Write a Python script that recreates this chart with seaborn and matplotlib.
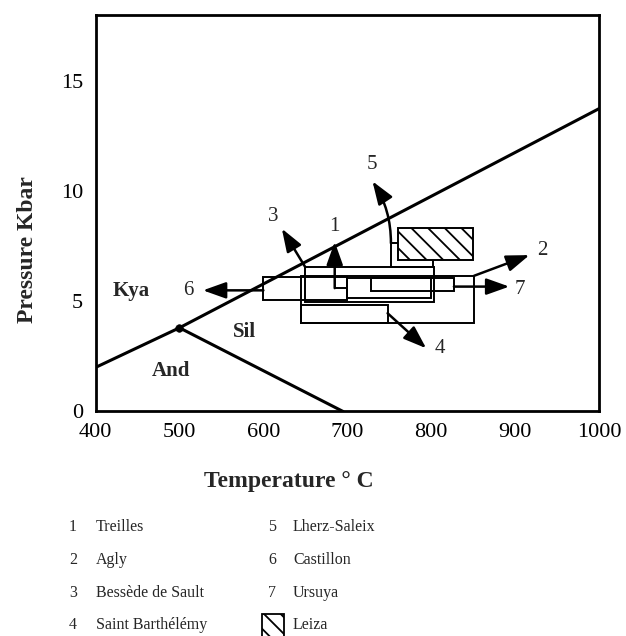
import matplotlib
matplotlib.use("Agg")
import matplotlib.pyplot as plt
import seaborn as sns
import pandas as pd
from matplotlib.patches import Rectangle
from matplotlib.ticker import MultipleLocator

# ---------------- data ----------------
# phase boundaries (T in deg C, P in kbar)
ky_T = [400, 500, 1000]
ky_P = [2.0, 3.8, 13.75]
as_T = [500, 695]
as_P = [3.8, 0.0]
triple_T = [500]
triple_P = [3.8]

# P-T boxes: (Tmin, Tmax, Pmin, Pmax)
box_ids = ["1", "2", "3", "4", "5", "6", "7"]
box_tmin = [700, 645, 650, 645, 752, 600, 728]
box_tmax = [800, 851, 803, 748, 802, 700, 827]
box_pmin = [5.14, 4.0, 4.95, 4.0, 6.55, 5.05, 5.47]
box_pmax = [6.05, 6.16, 6.55, 4.85, 7.64, 6.12, 6.05]

leiza_T = [760, 850]
leiza_P = [6.9, 8.33]

# arrows: start and end points, label position
arrow_ids = ["1", "2", "3", "4", "5", "6", "7"]
arrow_t0 = [685, 851, 650, 748, 752, 600, 827]
arrow_p0 = [5.6, 6.16, 6.55, 4.46, 7.64, 5.5, 5.67]
arrow_t1 = [685, 917, 622, 794, 730, 528, 893]
arrow_p1 = [7.7, 7.1, 8.3, 2.87, 10.45, 5.5, 5.67]
label_t = [685, 932, 612, 810, 729, 510, 906]
label_p = [8.4, 7.3, 8.85, 2.85, 11.2, 5.5, 5.55]

region_names = ["Kya", "And", "Sil"]
region_t = [442, 490, 578]
region_p = [5.45, 1.85, 3.6]

legend_nums = ["1", "2", "3", "4", "5", "6", "7"]
legend_names = ["Treilles", "Agly", "Bessède de Sault", "Saint Barthélémy",
                "Lherz-Saleix", "Castillon", "Ursuya"]
leiza_name = "Leiza"

x_ticks = [400, 500, 600, 700, 800, 900, 1000]
y_ticks = [0, 5, 10, 15]

# ---------------- style ----------------
sns.set_theme(style="white")
plt.rcParams["font.family"] = ["Liberation Serif", "DejaVu Serif"]
plt.rcParams["hatch.linewidth"] = 1.3

fig = plt.figure(figsize=(6.26, 6.36), dpi=100)
ax = fig.add_axes([0.1526, 0.353, 0.8044, 0.6234])

# phase boundaries
sns.lineplot(x=ky_T, y=ky_P, ax=ax, color="black", lw=2.2, sort=False,
             estimator=None, legend=False)
sns.lineplot(x=as_T, y=as_P, ax=ax, color="black", lw=2.2, sort=False,
             estimator=None, legend=False)
sns.scatterplot(x=triple_T, y=triple_P, ax=ax, color="black", s=30,
                edgecolor="black", zorder=5, legend=False)

# boxes
for t0, t1, p0, p1 in zip(box_tmin, box_tmax, box_pmin, box_pmax):
    ax.add_patch(Rectangle((t0, p0), t1 - t0, p1 - p0, fill=False,
                           ec="black", lw=1.4, zorder=2))
ax.add_patch(Rectangle((leiza_T[0], leiza_P[0]), leiza_T[1] - leiza_T[0],
                       leiza_P[1] - leiza_P[0], facecolor="white",
                       ec="black", lw=1.4, hatch="\\\\", zorder=3))

# connector for arrow 1
ax.plot([box_tmin[0], arrow_t0[0]], [5.6, 5.6], color="black", lw=1.4, zorder=2)

# arrows
for i, (t0, p0, t1, p1) in enumerate(zip(arrow_t0, arrow_p0, arrow_t1, arrow_p1)):
    conn = "arc3,rad=0.15" if arrow_ids[i] == "5" else "arc3,rad=0"
    ax.annotate("", xy=(t1, p1), xytext=(t0, p0),
                arrowprops=dict(arrowstyle="-|>,head_length=0.7,head_width=0.25",
                                lw=1.8, color="black", shrinkA=0, shrinkB=0,
                                mutation_scale=20, connectionstyle=conn),
                zorder=4)
for lab, t, p in zip(arrow_ids, label_t, label_p):
    ax.text(t, p, lab, ha="center", va="center", fontsize=15)

for name, t, p in zip(region_names, region_t, region_p):
    ax.text(t, p, name, ha="center", va="center", fontsize=15, fontweight="bold")

# axes
ax.set_xlim(400, 1000)
ax.set_ylim(0, 18)
ax.set_xticks(x_ticks)
ax.set_yticks(y_ticks)
ax.xaxis.set_minor_locator(MultipleLocator(50))
ax.yaxis.set_minor_locator(MultipleLocator(2.5))
ax.tick_params(which="major", direction="in", length=7, width=1.5,
               labelsize=16, top=False, right=False, color="black",
               labelcolor="black")
ax.tick_params(axis="x", which="major", pad=8)
ax.tick_params(axis="y", which="major", pad=9)
ax.tick_params(which="minor", direction="in", length=4, width=1.3,
               top=False, right=False, color="black")
for s in ax.spines.values():
    s.set_linewidth(2)
    s.set_color("black")
ax.set_xlabel("")
ax.set_ylabel("")

fig.text(289 / 626, 1 - 482 / 636, "Temperature ° C", ha="center", va="center",
         fontsize=17, fontweight="bold")
fig.text(28 / 626, 1 - 250 / 636, "Pressure Kbar", ha="center", va="center",
         fontsize=17, fontweight="bold", rotation=90)

# legend
row_y = [527, 560, 593, 625]
for i in range(4):
    fig.text(73 / 626, 1 - row_y[i] / 636, legend_nums[i], ha="center",
             va="center", fontsize=11.5)
    fig.text(96 / 626, 1 - row_y[i] / 636, legend_names[i], ha="left",
             va="center", fontsize=11.5)
for i in range(3):
    fig.text(272 / 626, 1 - row_y[i] / 636, legend_nums[4 + i], ha="center",
             va="center", fontsize=11.5)
    fig.text(293 / 626, 1 - row_y[i] / 636, legend_names[4 + i], ha="left",
             va="center", fontsize=11.5)
fig.patches.append(Rectangle((262 / 626, 1 - 637 / 636), 22 / 626, 23 / 636,
                             transform=fig.transFigure, facecolor="white",
                             ec="black", lw=1.3, hatch="\\\\"))
fig.text(293 / 626, 1 - row_y[3] / 636, leiza_name, ha="left", va="center",
         fontsize=11.5)

fig.savefig("out.png", dpi=100, facecolor="white")
